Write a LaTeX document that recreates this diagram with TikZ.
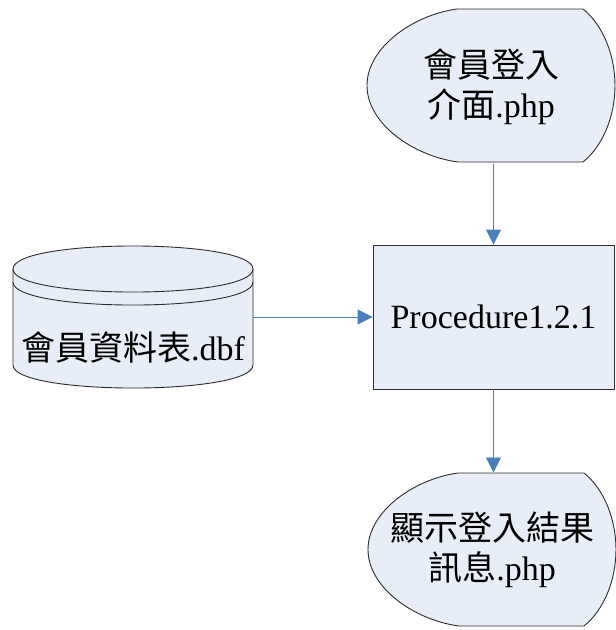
\documentclass[tikz,border=0pt]{standalone}
\usepackage{fontspec}
\setmainfont{Liberation Serif}
\newfontfamily\cjk{Noto Sans CJK TC}
\usetikzlibrary{arrows.meta}
\definecolor{fillblue}{RGB}{232,238,247}
\definecolor{arrowblue}{RGB}{74,126,187}
\definecolor{edgegray}{RGB}{45,45,45}
\begin{document}
\begin{tikzpicture}[x=1pt,y=-1pt,
  outline/.style={draw=edgegray, fill=fillblue, line width=0.9pt},
  edgeline/.style={draw=edgegray, line width=0.9pt},
  conn/.style={draw=arrowblue, line width=0.9pt, -{Triangle[length=15pt,width=15pt]}},
  txt/.style={font=\fontsize{34}{40}\selectfont, align=center, inner sep=0pt},
  frame/.style={inner sep=0pt, outer sep=0pt},
  disp/.pic={
    \path[outline] (-34,-76.5) -- (92,-76.5)
      .. controls (112,-60.5) and (124,-30.5) .. (124,0)
      .. controls (124,30.5) and (112,60.5) .. (92,76.5)
      -- (-33,76.5)
      .. controls (-78,70.5) and (-124,38) .. (-124,0)
      .. controls (-124,-38) and (-78,-70.5) .. (-34,-76.5) -- cycle;
  }]
\useasboundingbox (0,0) rectangle (616,630);
% display shapes
\pic at (491,85.5) {disp};
\pic at (492,549.5) {disp};
% database cylinder
\path[outline] (13,269) -- (13,365)
  .. controls (13,395.7) and (253,395.7) .. (253,365) -- (253,269)
  .. controls (253,238.3) and (13,238.3) .. (13,269) -- cycle;
\draw[edgeline] (13,269) .. controls (13,299.7) and (253,299.7) .. (253,269);
\draw[edgeline] (13,282) .. controls (13,312.7) and (253,312.7) .. (253,282);
% nodes
\node[txt, frame, minimum width=248pt, minimum height=153pt] (login) at (491,87)
  {{\cjk 會員登入}\\{\cjk 介面}.php};
\node[txt, frame, minimum width=245pt, minimum height=155pt] (result) at (492,550)
  {{\cjk 顯示登入結果}\\{\cjk 訊息}.php};
\node[frame, minimum width=240pt, minimum height=142pt] (db) at (133,317) {};
\node[txt] (dbtext) at (133,348) {{\cjk 會員資料表}.dbf};
\node[txt, outline, minimum width=241pt, minimum height=144pt] (proc) at (493.5,317) {Procedure1.2.1};
% connectors
\draw[conn] (login.south -| proc.north) -- (proc.north);
\draw[conn] (proc.south) -- (proc.south |- result.north);
\draw[conn] (db.east) -- (proc.west);
\end{tikzpicture}
\end{document}
